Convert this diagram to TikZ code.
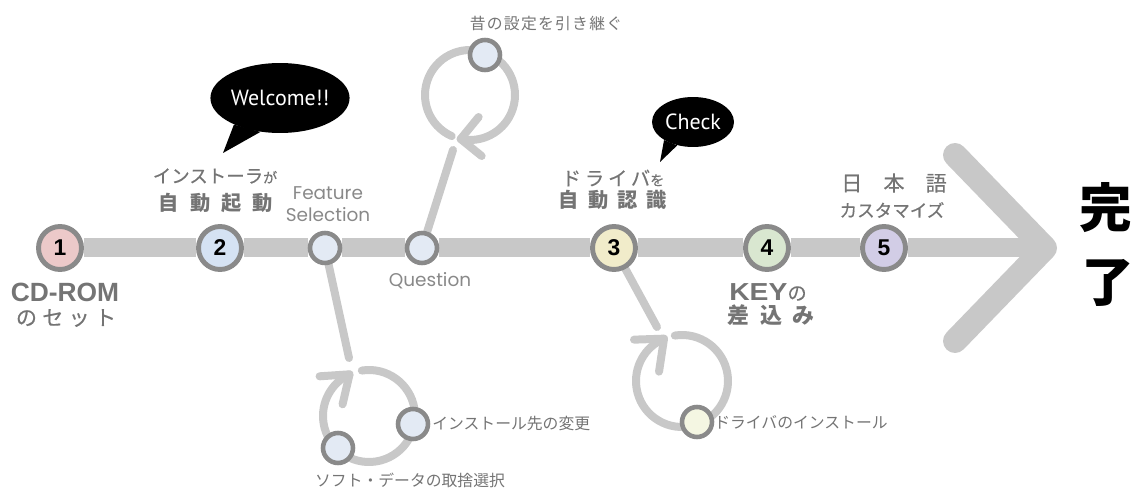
\documentclass[tikz,border=0pt]{standalone}
\usepackage{fontspec}
\setmainfont{Liberation Sans}
\newfontfamily\jp{Noto Sans CJK JP}
\newfontfamily\jpm{Noto Sans CJK JP}[FakeBold=0.4]
\newfontfamily\geo{Poppins}
\newfontfamily\bub{PT Sans}
\usetikzlibrary{shapes.geometric, backgrounds}

\definecolor{railgray}{HTML}{C8C8C8}
\definecolor{ringgray}{HTML}{8A8A8A}
\definecolor{txtgray}{HTML}{747474}
\definecolor{pinkfill}{HTML}{ECC9C9}
\definecolor{bluefill}{HTML}{D5E2F3}
\definecolor{subfill}{HTML}{E3EAF4}
\definecolor{sandfill}{HTML}{F1ECCA}
\definecolor{greenfill}{HTML}{D9E7D0}
\definecolor{lilacfill}{HTML}{D2CDE6}
\definecolor{drvfill}{HTML}{F4F6E2}

\begin{document}
\begin{tikzpicture}[x=0.02cm, y=-0.02cm,
  rail/.style={draw=railgray, line width=0.38cm},
  branch/.style={draw=railgray, line width=0.16cm, line cap=round, line join=round},
  stop/.style={circle, draw=ringgray, line width=2.8pt, minimum size=0.86cm, inner sep=0pt,
    font=\bfseries\fontsize{13}{13}\selectfont},
  substop/.style={circle, draw=ringgray, line width=2.6pt, minimum size=0.6cm, inner sep=0pt, fill=subfill},
  lbl/.style={text=txtgray, inner sep=0pt},
  bubble/.style={ellipse, fill=black, text=white, inner sep=0pt, font=\bub\fontsize{12.5}{12.5}\selectfont}]
\useasboundingbox (0,0) rectangle (1143,489);

% stops on the main line
\node[stop, fill=pinkfill] (s1) at (60,248) {1};
\node[stop, fill=bluefill] (s2) at (220,248) {2};
\node[substop] (fs) at (325,248) {};
\node[substop] (q) at (422,248) {};
\node[stop, fill=sandfill] (s3) at (614,248) {3};
\node[stop, fill=greenfill] (s4) at (767,248) {4};
\node[stop, fill=lilacfill] (s5) at (884,248) {5};

% side loops
\node[substop] (keep) at (485,55) {};
\node[substop] (chg) at (413,424) {};
\node[substop] (soft) at (338,448) {};
\node[substop, fill=drvfill] (drv) at (697,422) {};

\coordinate (top) at (955,155);
\coordinate (tip) at (1045,248);
\coordinate (bot) at (955,341);
\coordinate (fsend) at (349,358);
\coordinate (qend) at (453,150);
\coordinate (drvend) at (657,327);
\coordinate (fsloop) at (369,416);
\coordinate (qloop) at (470,95);
\coordinate (drvloop) at (682,381);

\begin{scope}[on background layer]
\draw[rail] (s1) -- (s2) -- (fs) -- (q) -- (s3) -- (s4) -- (s5) -- (tip);
\draw[rail, line width=0.48cm, line cap=round, line join=round] (top) -- (tip) -- (bot);
\draw[branch] (fs) -- (fsend);
\draw[branch] (q) -- (qend);
\draw[branch] (s3) -- (drvend);
\draw[branch] (fsloop) ++(261:46) arc[start angle=261, end angle=605, radius=46] coordinate (fsarrow);
\draw[branch] (fsarrow) ++(-30,2) -- (fsarrow) -- ++(-7,30);
\draw[branch] (qloop) ++(114:45) arc[start angle=114, end angle=462, radius=45] coordinate (qarrow);
\draw[branch] (qarrow) ++(18,-22) -- (qarrow) -- ++(21,17);
\draw[branch] (drvloop) ++(261:46) arc[start angle=261, end angle=607, radius=46] coordinate (drvarrow);
\draw[branch] (drvarrow) ++(-30,1) -- (drvarrow) -- ++(-5,33);
\end{scope}

% labels
\node[lbl, font=\bfseries\fontsize{15}{15}\selectfont] (cdrom) at (65,292) {CD-ROM};
\node[lbl, font=\jpm\fontsize{12}{12}\selectfont\addfontfeatures{LetterSpace=25}] (setto) at (66,318) {のセット};
\node[lbl, font=\jpm\fontsize{10.5}{10.5}\selectfont] (inst) at (215,176) {インストーラ{\fontsize{8}{8}\selectfont が}};
\node[lbl, font=\jp\bfseries\fontsize{11.5}{11.5}\selectfont\addfontfeatures{LetterSpace=55}] (jido) at (216,203) {自動起動};
\node[lbl, text=txtgray!85, font=\geo\fontsize{10.5}{12.5}\selectfont, align=center] (feat) at (328,204) {Feature\\Selection};
\node[lbl, text=txtgray!85, font=\geo\fontsize{10.5}{10.5}\selectfont] (quest) at (430,281) {Question};
\node[lbl, font=\jp\fontsize{9}{9}\selectfont\addfontfeatures{LetterSpace=8}] (keeplbl) at (546,24) {昔の設定を引き継ぐ};
\node[lbl, font=\jp\fontsize{9}{9}\selectfont, anchor=west] (chglbl) at (432,424) {インストール先の変更};
\node[lbl, font=\jp\fontsize{9}{9}\selectfont] (softlbl) at (410,480) {ソフト・データの取捨選択};
\node[lbl, font=\jp\fontsize{9}{9}\selectfont, anchor=west] (drvlbl) at (714,422) {ドライバのインストール};
\node[lbl, font=\jpm\fontsize{11}{11}\selectfont\addfontfeatures{LetterSpace=20}] (drvwo) at (613,178) {ドライバ{\fontsize{8}{8}\selectfont を}};
\node[lbl, font=\jp\bfseries\fontsize{11.5}{11.5}\selectfont\addfontfeatures{LetterSpace=45}] (ninshiki) at (613,200) {自動認識};
\node[lbl, font=\bfseries\fontsize{14}{14}\selectfont] (keyno) at (768,292) {{\addfontfeatures{FakeStretch=1.15}KEY}{\jpm\mdseries\fontsize{11}{11}\selectfont の}};
\node[lbl, font=\jp\bfseries\fontsize{12.5}{12.5}\selectfont\addfontfeatures{LetterSpace=50}] (sashi) at (771,315) {差込み};
\node[lbl, font=\jpm\fontsize{12}{12}\selectfont\addfontfeatures{LetterSpace=100}] (nihongo) at (894,183) {日本語};
\node[lbl, font=\jpm\fontsize{10}{10}\selectfont] (custom) at (892,210) {カスタマイズ};
\node[font=\jp\bfseries\fontsize{30}{30}\selectfont, inner sep=0pt] (kan) at (1106,208) {完};
\node[font=\jp\bfseries\fontsize{30}{30}\selectfont, inner sep=0pt] (ryo) at (1108,283) {了};

% speech bubbles
\node[bubble, minimum width=2.72cm, minimum height=1.4cm] (wel) at (280,98) {Welcome!!};
\coordinate (weltip) at (223,153);
\fill (wel.210) -- (weltip) -- (wel.240) -- cycle;
\node[bubble, minimum width=1.64cm, minimum height=1.0cm] (chk) at (693,122) {Check};
\coordinate (chktip) at (660,162);
\fill (chk.212) -- (chktip) -- (chk.236) -- cycle;
\end{tikzpicture}
\end{document}
